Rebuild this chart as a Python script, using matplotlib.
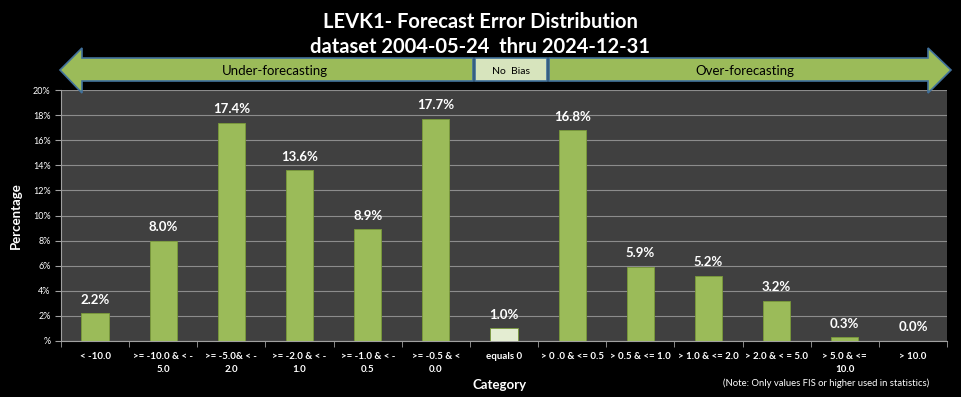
import numpy as np
import matplotlib
matplotlib.use('Agg')
import matplotlib.pyplot as plt
from matplotlib.patches import Polygon, Rectangle
from matplotlib.ticker import FixedLocator, FuncFormatter

plt.rcParams['font.family'] = ['Lato', 'DejaVu Sans']

categories = ['< -10.0', '>= -10.0 & < -\n5.0', '>= -5.0& < -\n2.0', '>= -2.0 & < -\n1.0',
              '>= -1.0 & < -\n0.5', '>= -0.5 & <\n0.0', 'equals 0', '> 0 .0 & <= 0.5',
              '> 0.5 & <= 1.0', '> 1.0 & <= 2.0', '> 2.0 & < = 5.0', '> 5.0 & <=\n10.0', '> 10.0']
percent = [2.2, 8.0, 17.4, 13.6, 8.9, 17.7, 1.0, 16.8, 5.9, 5.2, 3.2, 0.3, 0.0]
y_ticks = [0, 2, 4, 6, 8, 10, 12, 14, 16, 18, 20]

W, H = 961, 397
fig = plt.figure(figsize=(W / 100, H / 100), dpi=100, facecolor='black')


def fx(px):
    return px / W


def fy(py):
    return 1 - py / H


ax = fig.add_axes([fx(61), fy(341), fx(947) - fx(61), fy(90) - fy(341)])
ax.set_facecolor('#404040')

x = np.arange(len(categories))
colors = ['#9BBB59'] * len(categories)
colors[categories.index('equals 0')] = '#E4EDD2'
bars = ax.bar(x, percent, width=0.4, color=colors, edgecolor='#7A9A3A', linewidth=0.6, zorder=3)

for xi, v in zip(x, percent):
    ax.text(xi, v + 0.6, f'{v:.1f}%', ha='center', va='bottom', color='white',
            fontsize=9.5, fontweight='bold', zorder=4)

ax.set_xlim(-0.5, len(categories) - 0.5)
ax.set_ylim(0, 20)
ax.yaxis.set_major_locator(FixedLocator(y_ticks))
ax.yaxis.set_major_formatter(FuncFormatter(lambda v, p: '%' if v == 0 else f'{v:.0f}%'))
ax.grid(axis='y', color='#8C8C8C', linewidth=0.8, zorder=0)
ax.set_xticks(x)
ax.set_xticklabels(categories, fontsize=7, color='white', fontweight='bold', linespacing=1.5)
ax.set_xticks(np.arange(-0.5, len(categories)), minor=True)
ax.tick_params(axis='x', which='major', length=0, pad=8)
ax.tick_params(axis='x', which='minor', length=4, color='#A0A0A0', direction='out')
ax.tick_params(axis='y', labelsize=6.5, colors='white', length=4, direction='out')
ax.tick_params(axis='y', color='#A0A0A0')
for s in ['top', 'right']:
    ax.spines[s].set_visible(False)
for s in ['left', 'bottom']:
    ax.spines[s].set_color('#A0A0A0')

ax.set_ylabel('Percentage', color='white', fontsize=9.5, fontweight='bold', labelpad=8)
fig.text(fx(500), fy(385), 'Category', color='white', fontsize=9.5, fontweight='bold',
         ha='center', va='center')
fig.text(fx(826), fy(383), '(Note: Only values FIS or higher used in statistics)', color='white',
         fontsize=6.8, ha='center', va='center')

fig.text(fx(480), fy(22), 'LEVK1- Forecast Error Distribution', color='white', fontsize=14.5,
         fontweight='bold', ha='center', va='center')
fig.text(fx(480), fy(47), 'dataset 2004-05-24  thru 2024-12-31', color='white', fontsize=14.5,
         fontweight='bold', ha='center', va='center')

# direction arrows above the plot
arrow_fill = '#9BBB59'
arrow_edge = '#41719C'
left_arrow = [(60, 70), (82, 48), (82, 58), (473, 58), (473, 81), (82, 81), (82, 93)]
right_arrow = [(549, 58), (928, 58), (928, 48), (951, 70), (928, 93), (928, 81), (549, 81)]
for pts in [left_arrow, right_arrow]:
    fig.patches.append(Polygon([(fx(a), fy(b)) for a, b in pts], closed=True,
                               facecolor=arrow_fill, edgecolor=arrow_edge, linewidth=1.2,
                               transform=fig.transFigure, figure=fig))
fig.patches.append(Rectangle((fx(475), fy(81)), fx(72), fy(58) - fy(81), facecolor='#D7E4BD',
                             edgecolor=arrow_edge, linewidth=1.2, transform=fig.transFigure,
                             figure=fig))
fig.text(fx(275), fy(71), 'Under-forecasting', fontsize=9.5, color='black', ha='center', va='center')
fig.text(fx(511), fy(71), 'No  Bias', fontsize=7.5, color='black', ha='center', va='center')
fig.text(fx(745), fy(71), 'Over-forecasting', fontsize=9.5, color='black', ha='center', va='center')

fig.savefig('out.png', dpi=100, facecolor='black')
